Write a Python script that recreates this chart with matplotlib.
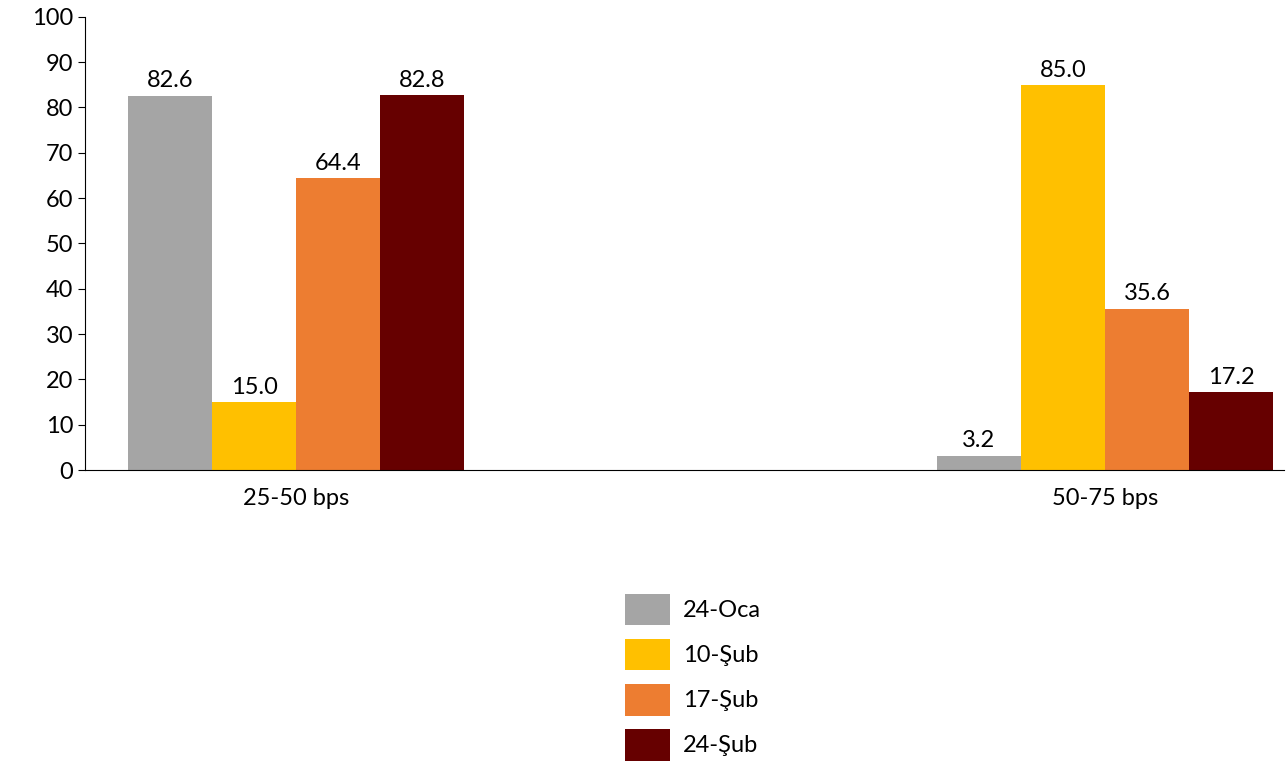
import numpy as np
import matplotlib
matplotlib.use("Agg")
import matplotlib.pyplot as plt

# ── data ──────────────────────────────────────────────────────────────────────
categories = ["25-50 bps", "50-75 bps"]
series     = ["24-Oca", "10-Şub", "17-Şub", "24-Şub"]
values     = {
    "24-Oca": [82.6, 3.2],
    "10-Şub": [15.0, 85.0],
    "17-Şub": [64.4, 35.6],
    "24-Şub": [82.8, 17.2],
}
colors = {"24-Oca": "#A5A5A5", "10-Şub": "#FFC000",
          "17-Şub": "#ED7D31", "24-Şub": "#660000"}

plt.rcParams["font.family"] = ["Lato", "DejaVu Sans"]
FS = 17

fig = plt.figure(figsize=(12.87, 7.63), dpi=100)
ax = fig.add_axes([0.066, 0.384, 0.932, 0.594])

x = np.arange(len(categories))
w = 0.104
for i, s in enumerate(series):
    pos = x + (i - 1.5) * w
    bars = ax.bar(pos, values[s], width=w, color=colors[s], label=s)
    for b, v in zip(bars, values[s]):
        ax.annotate(f"{v:.1f}", (b.get_x() + b.get_width() / 2, v),
                    xytext=(0, 3), textcoords="offset points",
                    ha="center", va="bottom", fontsize=FS)

ax.set_ylim(0, 100)
ax.set_yticks(range(0, 101, 10))
ax.set_xlim(-0.261, 1.222)
ax.set_xticks(x)
ax.set_xticklabels(categories)
ax.tick_params(axis="both", labelsize=FS)
ax.tick_params(axis="x", length=0, pad=13)
ax.tick_params(axis="y", length=5, color="black")
for sp in ["top", "right"]:
    ax.spines[sp].set_visible(False)

fig.legend(loc="upper left", bbox_to_anchor=(0.469, 0.25), frameon=False,
           fontsize=FS, handlelength=1.9, handleheight=1.7,
           labelspacing=0.56, handletextpad=0.55)

fig.savefig("out.png", dpi=100)
